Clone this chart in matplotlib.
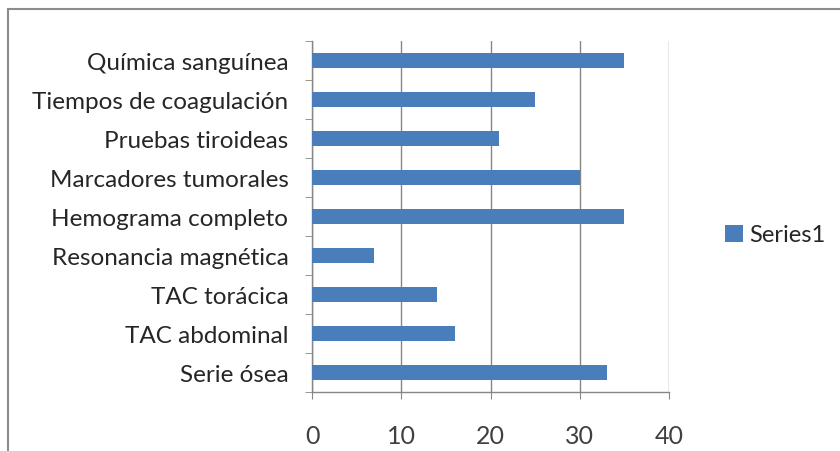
import matplotlib
matplotlib.use("Agg")
import matplotlib.pyplot as plt
from matplotlib.patches import Rectangle, Patch
import numpy as np

categories = [
    "Química sanguínea",
    "Tiempos de coagulación",
    "Pruebas tiroideas",
    "Marcadores tumorales",
    "Hemograma completo",
    "Resonancia magnética",
    "TAC torácica",
    "TAC abdominal",
    "Serie ósea",
]
values = [35, 25, 21, 30, 35, 7, 14, 16, 33]
x_ticks = [0, 10, 20, 30, 40]
series_name = "Series1"

plt.rcParams["font.family"] = ["Lato", "DejaVu Sans"]

W, H = 840, 452
fig = plt.figure(figsize=(W / 100, H / 100), dpi=100)
fig.patch.set_facecolor("white")

# outer chart frame
fig.patches.append(Rectangle((8 / W, -0.1), 1.2, (H - 10) / H + 0.1,
                             transform=fig.transFigure, fill=False,
                             edgecolor="#8c8c8c", linewidth=1.5))

ax = fig.add_axes([312 / W, 1 - 393 / H, (669 - 312) / W, (393 - 42) / H])

n = len(categories)
ypos = np.arange(n)[::-1]
bar_color = "#4a7ebb"
ax.barh(ypos, values, height=0.4, color=bar_color, zorder=3)

ax.set_xlim(0, 40)
ax.set_ylim(-0.5, n - 0.5)
ax.set_xticks(x_ticks)
ax.set_xticklabels([str(t) for t in x_ticks], fontsize=18, color="#404040")
ax.set_yticks(ypos)
ax.set_yticklabels(categories, fontsize=17.5, color="#262626")
ax.tick_params(axis="y", length=0, pad=17)
ax.set_yticks(np.arange(-0.5, n, 1.0), minor=True)
ax.tick_params(axis="y", which="minor", length=5, color="#868686", direction="out")
ax.tick_params(axis="x", length=5, color="#868686", direction="out", pad=18)

ax.grid(axis="x", color="#868686", linewidth=1.0, zorder=0)
for side in ("top", "right"):
    ax.spines[side].set_visible(False)
for side in ("left", "bottom"):
    ax.spines[side].set_color("#868686")
    ax.spines[side].set_linewidth(1.0)

leg = fig.legend(handles=[Patch(facecolor=bar_color, label=series_name)],
                 loc="center left", bbox_to_anchor=(704 / W, 1 - 236 / H),
                 frameon=False, fontsize=17, handlelength=0.75, handleheight=0.75,
                 handletextpad=0.25, labelcolor="#262626")

fig.savefig("out.png", dpi=100, facecolor="white")
